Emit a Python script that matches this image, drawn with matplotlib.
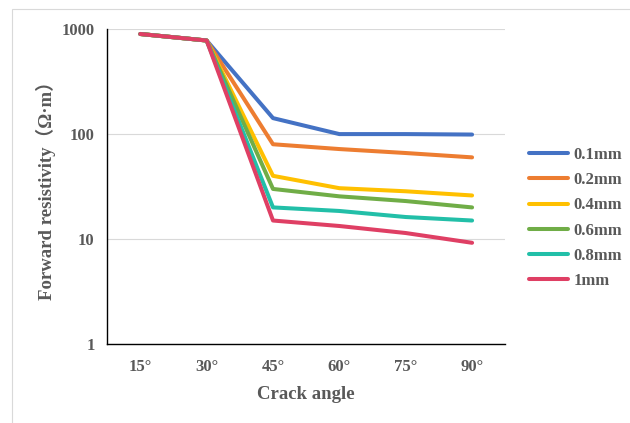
import matplotlib.pyplot as plt
from matplotlib.patches import Rectangle

# crack angle categories and forward resistivity per crack width
angles = ['15°', '30°', '45°', '60°', '75°', '90°']
w01 = [900, 780, 142, 100, 100, 99]
w02 = [900, 780, 80, 72, 66, 60]
w04 = [900, 780, 40, 30.5, 28.5, 26]
w06 = [900, 780, 30, 25.5, 23, 20]
w08 = [900, 780, 20, 18.5, 16.2, 15]
w10 = [900, 780, 15, 13.3, 11.4, 9.2]
labels = ['0.1mm', '0.2mm', '0.4mm', '0.6mm', '0.8mm', '1mm']
colors = ['#4472C4', '#ED7D31', '#FFC000', '#70AD47', '#22BFA8', '#DF3F64']

plt.rcParams['font.family'] = ['Liberation Serif', 'Noto Sans CJK SC']
grey = '#595959'

fig = plt.figure(figsize=(6.3, 4.23), dpi=100)
fig.patches.append(Rectangle((12 / 630, -0.01), 1.0, 1 - 9 / 423 + 0.01,
                             transform=fig.transFigure, fill=False,
                             edgecolor='#d9d9d9', linewidth=0.8))
ax = fig.add_axes([0.170, 0.187, 0.632, 0.744])

x = list(range(len(angles)))
for ys, lab, c in zip([w01, w02, w04, w06, w08, w10], labels, colors):
    ax.plot(x, ys, color=c, linewidth=2.9, label=lab, solid_capstyle='round')

ax.set_yscale('log')
ax.set_ylim(1, 1000)
ax.set_xlim(-0.5, 5.5)
ax.set_yticks([1, 10, 100, 1000])
ax.set_yticklabels(['1', '10', '100', '1000'])
ax.minorticks_off()
ax.set_xticks(x)
ax.set_xticklabels(angles)
ax.tick_params(length=0, colors=grey, labelsize=12, pad=11)
for t in ax.get_xticklabels() + ax.get_yticklabels():
    t.set_fontweight('bold')
ax.tick_params(axis='y', pad=9)
ax.grid(axis='y', color='#d9d9d9', linewidth=0.8)
ax.set_axisbelow(True)
for s in ['top', 'right']:
    ax.spines[s].set_visible(False)
for s in ['left', 'bottom']:
    ax.spines[s].set_color('black')
    ax.spines[s].set_linewidth(1.0)

ax.set_xlabel('Crack angle', fontsize=13.5, fontweight='bold', color=grey, labelpad=8)
ax.set_ylabel('Forward resistivity（Ω·m）', fontsize=13.5, fontweight='bold',
              color=grey, labelpad=4)

leg = ax.legend(loc='center left', bbox_to_anchor=(1.06, 0.4), frameon=False,
                borderaxespad=0, borderpad=0, handlelength=2.35,
                handletextpad=0.3, labelspacing=0.55,
                prop={'weight': 'bold', 'size': 12})
for t in leg.get_texts():
    t.set_color(grey)

fig.savefig('out.png', dpi=100)
